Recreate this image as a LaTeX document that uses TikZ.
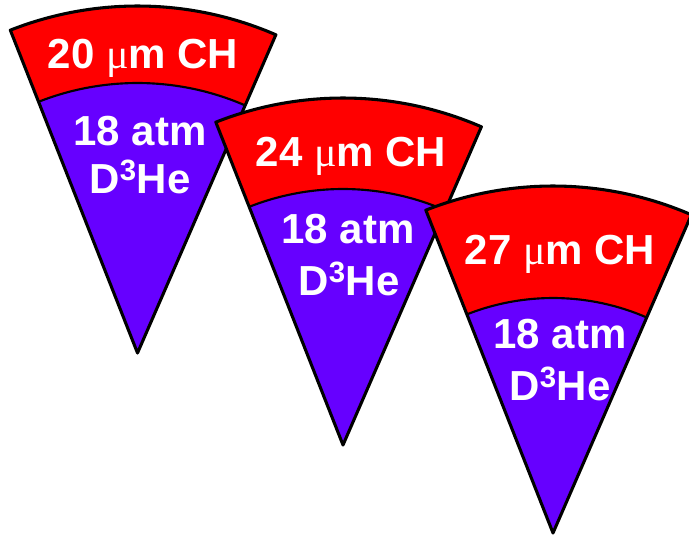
\documentclass[tikz,border=0pt]{standalone}
\usepackage{fontspec}
\setmainfont{Liberation Sans}
\newfontfamily\greekserif{Liberation Serif}
\usetikzlibrary{calc}
\definecolor{shellred}{HTML}{FF0000}
\definecolor{gasviolet}{HTML}{6600FF}

% outer radius of every target wedge and its opening angles
\newcommand\outerR{260.25pt}
\newcommand\angA{66.5}
\newcommand\angB{111.5}
% micro sign in a serif face
\newcommand\micro{{\greekserif\mdseries μ}}

% #1 = apex coordinate, #2 = radius of the gas/shell boundary
\newcommand\shellwedge[2]{%
  \fill[gasviolet] (#1) -- ++(\angA:\outerR)
    arc[start angle=\angA, end angle=\angB, radius=\outerR] -- cycle;
  \fill[shellred] ($(#1)+(\angA:#2)$) -- ($(#1)+(\angA:\outerR)$)
    arc[start angle=\angA, end angle=\angB, radius=\outerR]
    -- ($(#1)+(\angB:#2)$)
    arc[start angle=\angB, end angle=\angA, radius=#2] -- cycle;
  \draw[divider] ($(#1)+(\angB:#2)$)
    arc[start angle=\angB, end angle=\angA, radius=#2];
  \draw[rim] (#1) -- ++(\angA:\outerR)
    arc[start angle=\angA, end angle=\angB, radius=\outerR] -- cycle;
}

\begin{document}
\begin{tikzpicture}[x=0.75pt, y=0.75pt,
  rim/.style={draw=black, line width=2.3pt, line join=round},
  divider/.style={draw=black, line width=1.6pt},
  label/.style={text=white, inner sep=0pt, anchor=base,
    font=\bfseries\fontsize{31.5}{36}\selectfont}]
  \useasboundingbox (0,0) rectangle (689,537);

  \coordinate (apexA) at (137.5,184);
  \coordinate (apexB) at (343,92);
  \coordinate (apexC) at (553,4);

  % first wedge: 20 um shell
  \shellwedge{apexA}{202.5pt}
  \node[label] (shellA) at (143,469) {20 \micro m CH};
  \node[label] (gasA1) at (140,392) {18 atm};
  \node[label] (gasA2) at (140,344) {D\textsuperscript{3}He};

  % second wedge: 24 um shell
  \shellwedge{apexB}{192pt}
  \node[label] (shellB) at (351,371) {24 \micro m CH};
  \node[label] (gasB1) at (348,294) {18 atm};
  \node[label] (gasB2) at (349,242) {D\textsuperscript{3}He};

  % third wedge: 27 um shell
  \shellwedge{apexC}{176.25pt}
  \node[label] (shellC) at (560,273) {27 \micro m CH};
  \node[label] (gasC1) at (560,189) {18 atm};
  \node[label] (gasC2) at (560,137) {D\textsuperscript{3}He};
\end{tikzpicture}
\end{document}
